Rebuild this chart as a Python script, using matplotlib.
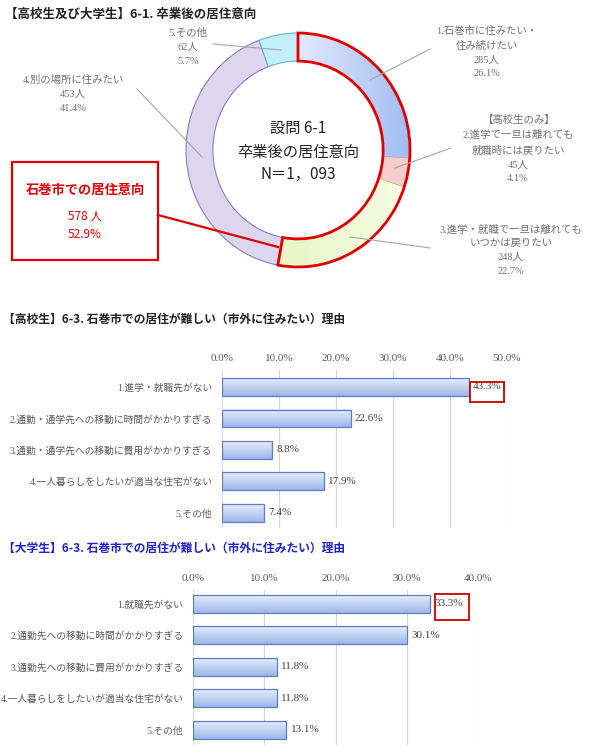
import numpy as np
import matplotlib.pyplot as plt
from matplotlib.patches import Wedge, Rectangle
from matplotlib.colors import LinearSegmentedColormap

plt.rcParams['font.family'] = ['Noto Sans CJK JP', 'DejaVu Sans']

# 6-1 卒業後の居住意向 (高校生及び大学生)
pie_labels = ['1.石巻市に住みたい・\n住み続けたい',
              '【高校生のみ】\n2.進学で一旦は離れても\n就職時には戻りたい',
              '3.進学・就職で一旦は離れても\nいつかは戻りたい',
              '4.別の場所に住みたい',
              '5.その他']
pie_counts = [285, 45, 248, 453, 62]
pie_pcts = [26.1, 4.1, 22.7, 41.4, 5.7]
n_total = '1，093'

# 6-3 高校生
hs_labels = ['1.進学・就職先がない',
             '2.通勤・通学先への移動に時間がかかりすぎる',
             '3.通勤・通学先への移動に費用がかかりすぎる',
             '4.一人暮らしをしたいが適当な住宅がない',
             '5.その他']
hs_values = [43.3, 22.6, 8.8, 17.9, 7.4]

# 6-3 大学生
univ_labels = ['1.就職先がない',
               '2.通勤先への移動に時間がかかりすぎる',
               '3.通勤先への移動に費用がかかりすぎる',
               '4.一人暮らしをしたいが適当な住宅がない',
               '5.その他']
univ_values = [33.3, 30.1, 11.8, 11.8, 13.1]

W, H = 604, 745
fig = plt.figure(figsize=(W / 100, H / 100), dpi=100)
fig.patch.set_facecolor('white')


def px_axes(x0, y0, x1, y1):
    # ejes colocados en coordenadas de pixel (origen arriba a la izquierda)
    return fig.add_axes([x0 / W, 1 - y1 / H, (x1 - x0) / W, (y1 - y0) / H])


gray_txt = '#707070'
serif_mix = ['Liberation Serif', 'Noto Sans CJK JP']

# ---- donut ----
pie_colors = ['#c2d2f6', '#f7cccc', '#eef9d2', '#ddd6ef', '#c4eefa']
pie_edges = ['#7f98d6', '#d48c8c', '#a9c57a', '#8a7cbc', '#5fb4cc']
ax_d = px_axes(168, 20, 428, 280)
wedges, _ = ax_d.pie(pie_counts, startangle=90, counterclock=False, colors=pie_colors,
                     radius=1, wedgeprops=dict(width=0.24, linewidth=0.8))
for w, ec in zip(wedges, pie_edges):
    w.set_edgecolor(ec)

# degradado en el sector azul
blue_cmap = LinearSegmentedColormap.from_list('blue', ['#e2eafc', '#a3bdf2'])
gx = np.linspace(0, 1, 64).reshape(1, -1)
im = ax_d.imshow(gx, cmap=blue_cmap, extent=[0, 1, -0.2, 1], aspect='auto', zorder=1.5)
im.set_clip_path(wedges[0])
green_cmap = LinearSegmentedColormap.from_list('green', ['#e6f7c4', '#f6fde6'])
im2 = ax_d.imshow(gx, cmap=green_cmap, extent=[-0.2, 1, -1, 0], aspect='auto', zorder=1.5)
im2.set_clip_path(wedges[2])

ax_d.set_aspect('auto')
ax_d.set_xlim(-130 / 112, 130 / 112)
ax_d.set_ylim(-130 / 117, 130 / 117)
ax_d.axis('off')

# contorno rojo para los tres primeros (居住意向)
ishi_count = sum(pie_counts[:3])
ishi_pct = sum(pie_pcts[:3])
frac = ishi_count / sum(pie_counts)
ax_d.add_patch(Wedge((0, 0), 1, 90 - 360 * frac, 90, width=0.24, fill=False,
                     edgecolor='#e00000', linewidth=2, zorder=5))

# ---- barras ----
bar_cmap = LinearSegmentedColormap.from_list('bar', ['#e6edfc', '#9db7ea'])


def grad_bars(ax, labels, values, xmax, ylims):
    bars = ax.barh(range(len(values)), values, height=0.57, color='none',
                   edgecolor='#5b7fc0', linewidth=0.9, zorder=3)
    grad = np.linspace(0, 1, 64).reshape(-1, 1)
    for b in bars:
        x, y, w, h = b.get_x(), b.get_y(), b.get_width(), b.get_height()
        ax.imshow(grad, cmap=bar_cmap, extent=[x, x + w, y + h, y], aspect='auto', zorder=2)
    ax.bar_label(bars, labels=['%.1f%%' % v for v in values], padding=3,
                 fontsize=8, color='#404040', family='Liberation Serif')
    ax.set_xlim(0, xmax)
    ax.set_ylim(*ylims)
    ax.set_xticks(np.arange(0, xmax + 1, 10))
    ax.set_xticklabels(['%.1f%%' % t for t in np.arange(0, xmax + 1, 10)],
                       fontfamily='Liberation Serif')
    ax.xaxis.tick_top()
    ax.tick_params(axis='x', length=0, pad=5, labelsize=8, labelcolor='#595959')
    ax.set_yticks(range(len(labels)))
    ax.set_yticklabels(labels, fontfamily=serif_mix)
    ax.tick_params(axis='y', length=0, pad=7, labelsize=7, labelcolor='#595959')
    ax.grid(axis='x', color='#d6d6d6', linewidth=0.8)
    ax.set_axisbelow(True)
    for s in ax.spines.values():
        s.set_visible(False)
    return bars


ax1 = px_axes(222, 370, 507, 528)
grad_bars(ax1, hs_labels, hs_values, 50, (4.48, -0.54))

ax2 = px_axes(193, 590, 478, 745)
grad_bars(ax2, univ_labels, univ_values, 40, (4.48, -0.44))

# ---- textos y lineas en pixel ----
ax_o = fig.add_axes([0, 0, 1, 1])
ax_o.set_xlim(0, W)
ax_o.set_ylim(H, 0)
ax_o.axis('off')

ax_o.text(5, 14, '【高校生及び大学生】6-1. 卒業後の居住意向', fontsize=9, fontweight='bold',
          va='center', ha='left', color='#222222')

# texto central
ax_o.text(298, 128, '設問 6-1', fontsize=11, ha='center', va='center', color='#222222')
ax_o.text(298, 152, '卒業後の居住意向', fontsize=11, ha='center', va='center', color='#222222')
ax_o.text(298, 174, 'N＝' + n_total, fontsize=11, ha='center', va='center', color='#222222')

# etiquetas del donut y lineas guia
lab_pos = [(487, 52), (518, 149), (511, 250), (73, 94), (188, 47)]
leaders = [((370, 80), (430, 49)), ((395, 168), (451, 148)), ((350, 237), (430, 248)),
           ((137, 89), (202, 157)), ((213, 44), (281, 50))]
for lab, c, p, pos, ld in zip(pie_labels, pie_counts, pie_pcts, lab_pos, leaders):
    ax_o.text(pos[0], pos[1], '%s\n%d人\n%.1f%%' % (lab, c, p), fontsize=7.5, ha='center',
              va='center', color=gray_txt, linespacing=1.65, fontfamily=serif_mix)
    ax_o.plot([ld[0][0], ld[1][0]], [ld[0][1], ld[1][1]], color='#a6a6a6', lw=0.8)

# recuadro rojo
ax_o.add_patch(Rectangle((12, 162), 146, 98, fill=False, edgecolor='#e00000', lw=1.6))
ax_o.plot([158, 278], [215, 247], color='#e00000', lw=1.6)
ax_o.text(85, 190, '石巻市での居住意向', fontsize=9.5, fontweight='bold', color='#e00000',
          ha='center', va='center')
ax_o.text(85, 216, '%d 人' % ishi_count, fontsize=8.5, color='#e00000', ha='center', va='center')
ax_o.text(85, 235, '%.1f%%' % ishi_pct, fontsize=8.5, color='#e00000', ha='center', va='center')

# titulos de las barras
ax_o.text(3, 319, '【高校生】6-3. 石巻市での居住が難しい（市外に住みたい）理由', fontsize=8.5,
          fontweight='bold', color='#222222', ha='left', va='center')
ax_o.text(3, 548, '【大学生】6-3. 石巻市での居住が難しい（市外に住みたい）理由', fontsize=8.5,
          fontweight='bold', color='#2222cc', ha='left', va='center')

# recuadros rojos de los valores mas altos
ax_o.add_patch(Rectangle((470, 382), 34, 20, fill=False, edgecolor='#d01010', lw=1.4))
ax_o.add_patch(Rectangle((435, 594), 34, 26, fill=False, edgecolor='#d01010', lw=1.4))

fig.savefig('out.png', dpi=100)
